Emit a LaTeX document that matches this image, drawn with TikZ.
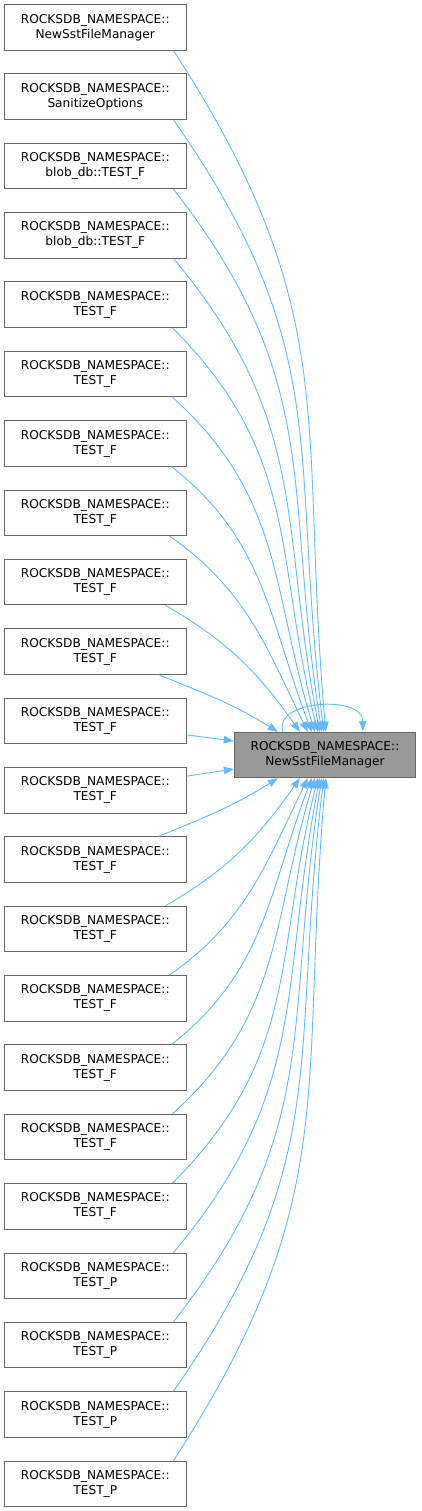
\documentclass[tikz,border=0pt]{standalone}
\usepackage{fontspec}
\setmainfont{DejaVu Sans}
\usetikzlibrary{arrows.meta,calc}
\definecolor{edgeblue}{HTML}{63B8FF}
\definecolor{boxborder}{HTML}{666666}
\definecolor{boxfill}{HTML}{999999}
\tikzset{
  fn/.style={draw=boxborder, line width=0.9pt, fill=white, minimum width=181.5pt, minimum height=45.5pt,
    inner sep=0pt, align=center, font=\fontsize{12.2}{15}\selectfont},
  target/.style={fn, fill=boxfill},
  edge/.style={draw=edgeblue, line width=0.9pt, -{Triangle[length=10pt,width=7.5pt]}},
}
\begin{document}
\begin{tikzpicture}[x=1pt,y=1pt]
\useasboundingbox (0,0) rectangle (421,-1511);
\node[fn] (n1) at (95.25,-27.25) {ROCKSDB\_NAMESPACE::\\NewSstFileManager};
\node[fn] (n2) at (95.25,-96.61) {ROCKSDB\_NAMESPACE::\\SanitizeOptions};
\node[fn] (n3) at (95.25,-165.97) {ROCKSDB\_NAMESPACE::\\blob\_db::TEST\_F};
\node[fn] (n4) at (95.25,-235.33) {ROCKSDB\_NAMESPACE::\\blob\_db::TEST\_F};
\node[fn] (n5) at (95.25,-304.69) {ROCKSDB\_NAMESPACE::\\TEST\_F};
\node[fn] (n6) at (95.25,-374.05) {ROCKSDB\_NAMESPACE::\\TEST\_F};
\node[fn] (n7) at (95.25,-443.41) {ROCKSDB\_NAMESPACE::\\TEST\_F};
\node[fn] (n8) at (95.25,-512.77) {ROCKSDB\_NAMESPACE::\\TEST\_F};
\node[fn] (n9) at (95.25,-582.13) {ROCKSDB\_NAMESPACE::\\TEST\_F};
\node[fn] (n10) at (95.25,-651.49) {ROCKSDB\_NAMESPACE::\\TEST\_F};
\node[fn] (n11) at (95.25,-720.85) {ROCKSDB\_NAMESPACE::\\TEST\_F};
\node[fn] (n12) at (95.25,-790.21) {ROCKSDB\_NAMESPACE::\\TEST\_F};
\node[fn] (n13) at (95.25,-859.57) {ROCKSDB\_NAMESPACE::\\TEST\_F};
\node[fn] (n14) at (95.25,-928.93) {ROCKSDB\_NAMESPACE::\\TEST\_F};
\node[fn] (n15) at (95.25,-998.29) {ROCKSDB\_NAMESPACE::\\TEST\_F};
\node[fn] (n16) at (95.25,-1067.65) {ROCKSDB\_NAMESPACE::\\TEST\_F};
\node[fn] (n17) at (95.25,-1137.01) {ROCKSDB\_NAMESPACE::\\TEST\_F};
\node[fn] (n18) at (95.25,-1206.37) {ROCKSDB\_NAMESPACE::\\TEST\_F};
\node[fn] (n19) at (95.25,-1275.73) {ROCKSDB\_NAMESPACE::\\TEST\_P};
\node[fn] (n20) at (95.25,-1345.09) {ROCKSDB\_NAMESPACE::\\TEST\_P};
\node[fn] (n21) at (95.25,-1414.45) {ROCKSDB\_NAMESPACE::\\TEST\_P};
\node[fn] (n22) at (95.25,-1483.81) {ROCKSDB\_NAMESPACE::\\TEST\_P};
\node[target] (t) at (325,-755) {ROCKSDB\_NAMESPACE::\\NewSstFileManager};
% upper edges
\foreach \k/\s/\e/\o/\i/\l in {1/13/92/-57/95/1.15, 2/13/90/-55/97/1.15, 3/13/88/-52/99/1.12, 4/13/86/-50/101/1.1,
  5/14/84/-45/104/1.08, 6/14/81/-42/107/1.05, 7/15/78/-38/111/1.02, 8/17/74/-35/116/1, 9/21/66/-30/125/1, 10/28/44/-22/148/1}{
  \draw[edge] ([xshift=-\s pt]n\k.south east) to[out=\o,in=\i,looseness=\l] ([xshift=\e pt]t.north west);
}
% lower edges (mirror)
\foreach \k/\s/\e/\o/\i/\l in {22/13/92/57/-95/1.15, 21/13/90/55/-97/1.15, 20/13/88/52/-99/1.12, 19/13/86/50/-101/1.1,
  18/14/84/45/-104/1.08, 17/14/81/42/-107/1.05, 16/15/78/38/-111/1.02, 15/17/74/35/-116/1, 14/21/66/30/-125/1, 13/28/44/22/-148/1}{
  \draw[edge] ([xshift=-\s pt]n\k.north east) to[out=\o,in=\i,looseness=\l] ([xshift=\e pt]t.south west);
}
\draw[edge] ([yshift=-14pt]n11.east) -- ([yshift=14pt]t.west);
\draw[edge] ([yshift=14pt]n12.east) -- ([yshift=-14pt]t.west);
% self loop
\coordinate (ls) at ([xshift=49pt]t.north west);
\coordinate (le) at ([xshift=129pt,yshift=1pt]t.north west);
\draw[edge] (ls) .. controls ($(ls)+(-10,32)$) and ($(le)+(0,36)$) .. (le);
\end{tikzpicture}
\end{document}
